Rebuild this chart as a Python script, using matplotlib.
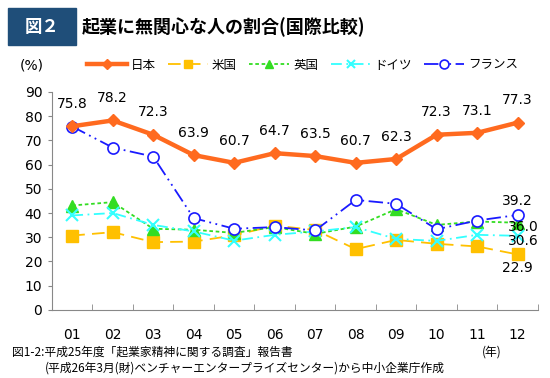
import matplotlib
matplotlib.use("Agg")
import matplotlib.pyplot as plt
from matplotlib.patches import Rectangle
import numpy as np

plt.rcParams['font.family'] = ['Noto Sans CJK JP', 'DejaVu Sans']

years = ['01', '02', '03', '04', '05', '06', '07', '08', '09', '10', '11', '12']
japan = [75.8, 78.2, 72.3, 63.9, 60.7, 64.7, 63.5, 60.7, 62.3, 72.3, 73.1, 77.3]
usa = [30.7, 32.1, 28.0, 28.2, 30.8, 34.8, 33.0, 25.1, 28.9, 27.3, 26.2, 22.9]
uk = [43.1, 44.5, 33.5, 33.1, 31.8, 34.2, 31.4, 34.4, 41.6, 35.1, 36.5, 36.0]
germany = [39.0, 40.0, 35.1, 32.4, 28.6, 31.0, 32.4, 34.2, 29.3, 28.5, 31.0, 30.6]
france = [75.7, 67.0, 63.3, 37.9, 33.5, 34.2, 32.8, 45.4, 43.8, 33.3, 36.9, 39.2]

fig = plt.figure(figsize=(5.5, 3.78), dpi=100)
ax = fig.add_axes([0.0945, 0.180, 0.8835, 0.577])
x = np.arange(len(years))

ax.plot(x, japan, color='#FF6A1F', lw=3.2, marker='D', ms=6, label='日本', zorder=5)
ax.plot(x, usa, color='#FFC000', lw=1.3, ls=(0, (7, 4)), marker='s', ms=8, label='米国')
ax.plot(x, uk, color='#33DD22', lw=1.3, ls=(0, (2, 1.5)), marker='^', ms=8, label='英国')
ax.plot(x, germany, color='#33FFFF', lw=1.3, ls=(0, (6, 2.5, 1, 2.5)), marker='x', ms=8,
        mew=1.5, label='ドイツ')
ax.plot(x, france, color='#1A1AFF', lw=1.3, ls=(0, (8, 2.5, 1, 2.5, 1, 2.5)), marker='o', ms=8,
        mfc='white', mew=1.2, label='フランス')

for xi, v in zip(x, japan):
    ax.annotate(f'{v:.1f}', (xi, v), xytext=(0, 11), textcoords='offset points',
                ha='center', va='bottom', fontsize=10, family=['DejaVu Sans'])

last = len(years) - 1
ax.annotate(f'{france[-1]:.1f}', (last, france[-1]), xytext=(0, 5), textcoords='offset points',
            ha='center', va='bottom', fontsize=10, family=['DejaVu Sans'])
ax.annotate(f'{uk[-1]:.1f}', (last, uk[-1]), xytext=(4, -3), textcoords='offset points',
            ha='center', va='center', fontsize=10, family=['DejaVu Sans'])
ax.annotate(f'{germany[-1]:.1f}', (last, germany[-1]), xytext=(4, -4), textcoords='offset points',
            ha='center', va='center', fontsize=10, family=['DejaVu Sans'])
ax.annotate(f'{usa[-1]:.1f}', (last, usa[-1]), xytext=(0, -5), textcoords='offset points',
            ha='center', va='top', fontsize=10, family=['DejaVu Sans'])

ax.set_xlim(-0.5, len(years) - 0.5)
ax.set_ylim(0, 90)
ax.set_yticks(range(0, 91, 10))
ax.set_xticks(x)
ax.set_xticklabels(years)
ax.set_xticks(np.arange(-0.5, len(years), 1), minor=True)
ax.tick_params(axis='x', which='major', length=0, pad=13, labelsize=10)
ax.tick_params(axis='x', which='minor', direction='in', length=4, color='#888888')
ax.tick_params(axis='y', length=3, color='#888888', labelsize=10, pad=4)
for t in ax.get_xticklabels() + ax.get_yticklabels():
    t.set_family(['DejaVu Sans'])
for s in ['top', 'right']:
    ax.spines[s].set_visible(False)
for s in ['left', 'bottom']:
    ax.spines[s].set_color('#888888')

fig.legend(loc='center', bbox_to_anchor=(0.55, 0.828), ncol=5, frameon=False, fontsize=9,
           handlelength=3.2, columnspacing=1.0, handletextpad=0.3, markerscale=0.8)
fig.text(0.035, 0.828, '(%)', fontsize=10, va='center', family=['DejaVu Sans'])

fig.patches.append(Rectangle((8 / 550, 1 - 45 / 378), 68 / 550, 37 / 378,
                             transform=fig.transFigure, color='#1F4E79', zorder=0))
fig.text(42 / 550, 1 - 27 / 378, '図２', color='white', fontsize=12.5, fontweight='bold',
         ha='center', va='center')
fig.text(82 / 550, 1 - 27 / 378, '起業に無関心な人の割合(国際比較)', fontsize=13,
         fontweight='bold', va='center')

fig.text(12 / 550, 1 - 352 / 378, '図1-2:平成25年度「起業家精神に関する調査」報告書',
         fontsize=8.5, va='center')
fig.text(45 / 550, 1 - 368 / 378, '(平成26年3月(財)ベンチャーエンタープライズセンター)から中小企業庁作成',
         fontsize=8.5, va='center')
fig.text(482 / 550, 1 - 352 / 378, '(年)', fontsize=8.5, va='center')

fig.savefig('out.png', dpi=100)
